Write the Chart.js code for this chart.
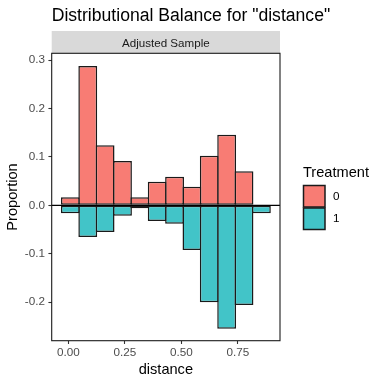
<!DOCTYPE html>
<html><head><meta charset="utf-8">
<script src="https://cdn.jsdelivr.net/npm/chart.js@4/dist/chart.umd.min.js"></script>
<style>html,body{margin:0;padding:0;background:#fff}#wrap{width:384px;height:384px}</style>
</head><body><div id="wrap"><canvas id="c" width="384" height="384"></canvas></div>
<script>
const chartTitle = 'Distributional Balance for "distance"';
const facetLabel = 'Adjusted Sample';
const xTitle = 'distance';
const yTitle = 'Proportion';
const legendTitle = 'Treatment';
const groupLabels = ['0', '1'];
const binCenters = [0.0092, 0.0861, 0.1629, 0.2398, 0.3166, 0.3935, 0.4703, 0.5472, 0.6240, 0.7009, 0.7777, 0.8546];
const treat0 = [0.0165, 0.2876, 0.124, 0.0915, 0.0165, 0.0488, 0.059, 0.0384, 0.1024, 0.1458, 0.0702, 0];
const treat1 = [-0.0165, -0.0655, -0.055, -0.0215, -0.006, -0.0324, -0.038, -0.0923, -0.2003, -0.2548, -0.206, -0.0165];
const xTicks = [0, 0.25, 0.5, 0.75];
const yTicks = [-0.2, -0.1, 0, 0.1, 0.2, 0.3];

const FONT = '"Liberation Sans", Arial, sans-serif';
const fills = ['rgb(248,124,116)', 'rgb(66,196,200)'];

const deco = {
  id: 'deco',
  afterDraw(chart) {
    const {ctx, chartArea: a, scales: {y}} = chart;
    ctx.save();
    // strip
    ctx.fillStyle = '#d9d9d9';
    ctx.fillRect(a.left, 31, a.right - a.left, a.top - 31);
    ctx.fillStyle = '#1a1a1a';
    ctx.font = '11.6px ' + FONT;
    ctx.textAlign = 'center';
    ctx.textBaseline = 'alphabetic';
    ctx.fillText(facetLabel, (a.left + a.right) / 2, 46.8);
    // title
    ctx.fillStyle = '#000';
    ctx.font = '17.6px ' + FONT;
    ctx.textAlign = 'left';
    ctx.fillText(chartTitle, a.left, 20.5);
    // zero line
    const y0 = y.getPixelForValue(0);
    ctx.strokeStyle = '#000';
    ctx.lineWidth = 1.2;
    ctx.beginPath();
    ctx.moveTo(a.left, y0);
    ctx.lineTo(a.right, y0);
    ctx.stroke();
    // panel border
    ctx.strokeStyle = '#1a1a1a';
    ctx.lineWidth = 1.1;
    ctx.strokeRect(a.left, a.top, a.right - a.left, a.bottom - a.top);
    // legend
    ctx.fillStyle = '#000';
    ctx.font = '14.6px ' + FONT;
    ctx.textAlign = 'left';
    ctx.fillText(legendTitle, 303, 176.7);
    chart.data.datasets.forEach((ds, i) => {
      const top = 185.5 + i * 22.5;
      ctx.fillStyle = ds.backgroundColor;
      ctx.fillRect(303.5, top, 21.5, 21.5);
      ctx.strokeStyle = '#1a1a1a';
      ctx.lineWidth = 1.5;
      ctx.strokeRect(303.5, top, 21.5, 21.5);
      ctx.fillStyle = '#000';
      ctx.font = '11.7px ' + FONT;
      ctx.textBaseline = 'middle';
      ctx.fillText(ds.label, 333, top + 11);
      ctx.textBaseline = 'alphabetic';
    });
    ctx.restore();
  }
};

const mk = (vals) => binCenters.map((c, i) => ({x: c, y: vals[i]}));

new Chart(document.getElementById('c'), {
  type: 'bar',
  data: {
    datasets: [
      {label: groupLabels[0], data: mk(treat0), backgroundColor: fills[0]},
      {label: groupLabels[1], data: mk(treat1), backgroundColor: fills[1]}
    ]
  },
  options: {
    responsive: false,
    animation: false,
    devicePixelRatio: 1,
    layout: {padding: {top: 53.3, right: 104, left: 0, bottom: 0}},
    plugins: {legend: {display: false}, title: {display: false}, tooltip: {enabled: false}},
    datasets: {
      bar: {
        grouped: false,
        borderColor: '#1a1a1a',
        borderWidth: 1.5,
        borderSkipped: false,
        categoryPercentage: 1,
        barPercentage: 1.086
      }
    },
    scales: {
      x: {
        type: 'linear',
        min: -0.0735,
        max: 0.937,
        offset: false,
        afterBuildTicks: (s) => { s.ticks = xTicks.map(v => ({value: v})); },
        afterFit: (s) => { s.height = 43.3; },
        grid: {offset: false, drawOnChartArea: false, drawTicks: true, tickLength: 3.3, tickColor: '#333', tickWidth: 1.1},
        border: {display: false},
        ticks: {
          color: '#4d4d4d', font: {family: FONT, size: 11.7}, padding: 1.8,
          maxRotation: 0, autoSkip: false,
          callback: (v) => Number(v).toFixed(2)
        },
        title: {display: true, text: xTitle, color: '#000', font: {family: FONT, size: 14.6}, padding: {top: 0, bottom: 5.2}}
      },
      y: {
        type: 'linear',
        min: -0.2796,
        max: 0.3139,
        afterBuildTicks: (s) => { s.ticks = yTicks.map(v => ({value: v})); },
        afterFit: (s) => { s.width = 51.7; },
        grid: {drawOnChartArea: false, drawTicks: true, tickLength: 3.3, tickColor: '#333', tickWidth: 1.1},
        border: {display: false},
        ticks: {
          color: '#4d4d4d', font: {family: FONT, size: 11.7}, padding: 3.5,
          autoSkip: false,
          callback: (v) => Number(v).toFixed(1)
        },
        title: {display: true, text: yTitle, color: '#000', font: {family: FONT, size: 14.6}, padding: {top: 4.2, bottom: 0}}
      }
    }
  },
  plugins: [deco]
});
</script>
</body></html>
